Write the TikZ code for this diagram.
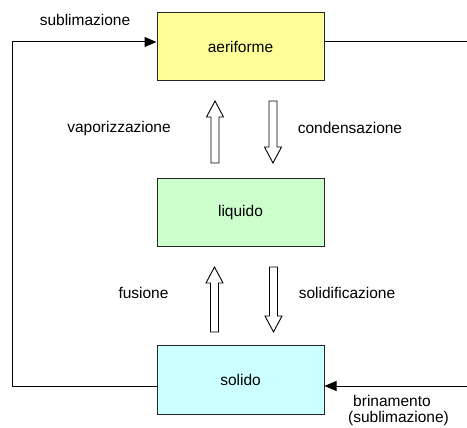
\documentclass[tikz,border=0pt]{standalone}
\usepackage{fontspec}
\setmainfont{Liberation Sans}
\usetikzlibrary{arrows.meta,calc}
\definecolor{gasY}{HTML}{FFFF99}
\definecolor{liqG}{HTML}{CCFFCC}
\definecolor{solC}{HTML}{CCFFFF}
\newcommand\hollowUp[3]{% x, ytip, ybottom
  \draw[hollow] (#1-4,#3) -- (#1-4,#2+16) -- (#1-8.5,#2+16) -- (#1,#2) -- (#1+8.5,#2+16) -- (#1+4,#2+16) -- (#1+4,#3) -- cycle;}
\newcommand\hollowDown[3]{% x, ytop, ytip
  \draw[hollow] (#1-4,#2) -- (#1-4,#3-16) -- (#1-8.5,#3-16) -- (#1,#3) -- (#1+8.5,#3-16) -- (#1+4,#3-16) -- (#1+4,#2) -- cycle;}
\begin{document}
\begin{tikzpicture}[x=1pt,y=-1pt,
  state/.style={draw=black!85,line width=1pt,minimum width=167pt,minimum height=68pt,inner sep=0pt,font=\fontsize{15.5}{18}\selectfont},
  lbl/.style={font=\fontsize{15.5}{18}\selectfont,inner sep=0pt},
  hollow/.style={draw=black,line width=0.9pt,fill=white,line join=miter},
  conn/.style={draw=black,line width=1pt},
  tip/.style={-{Triangle[length=12pt,width=10pt]}}]
\useasboundingbox (0,0) rectangle (467,428);
\node[state,fill=gasY] (aer) at (240.5,47) {aeriforme};
\node[state,fill=liqG] (liq) at (240.5,212.5) {liquido};
\node[state,fill=solC] (sol) at (240.5,380) {solido};
% outer connectors
\coordinate (lb) at (12,386);
\coordinate (lt) at (12,42);
\coordinate (rt) at (480,42);
\coordinate (rb) at (480,386);
\draw[conn,tip] (sol.west |- lb) -- (lb) -- (lt) -- (aer.west |- lt);
\draw[conn,tip] (aer.east |- rt) -- (rt) -- (rb) -- (sol.east |- rb);
% hollow arrows
\hollowUp{215}{101}{163}
\hollowDown{273}{101}{163}
\hollowUp{214.5}{267}{332}
\hollowDown{273.5}{267}{332}
% labels
\node[lbl] (tsub) at (85,20) {sublimazione};
\node[lbl] (tvap) at (119,128) {vaporizzazione};
\node[lbl] (tcon) at (350,128) {condensazione};
\node[lbl] (tfus) at (143.5,293) {fusione};
\node[lbl] (tsol) at (347,293) {solidificazione};
\node[lbl] (tbri) at (392,401) {brinamento};
\node[lbl] (tbsu) at (398.5,418) {(sublimazione)};
\end{tikzpicture}
\end{document}
